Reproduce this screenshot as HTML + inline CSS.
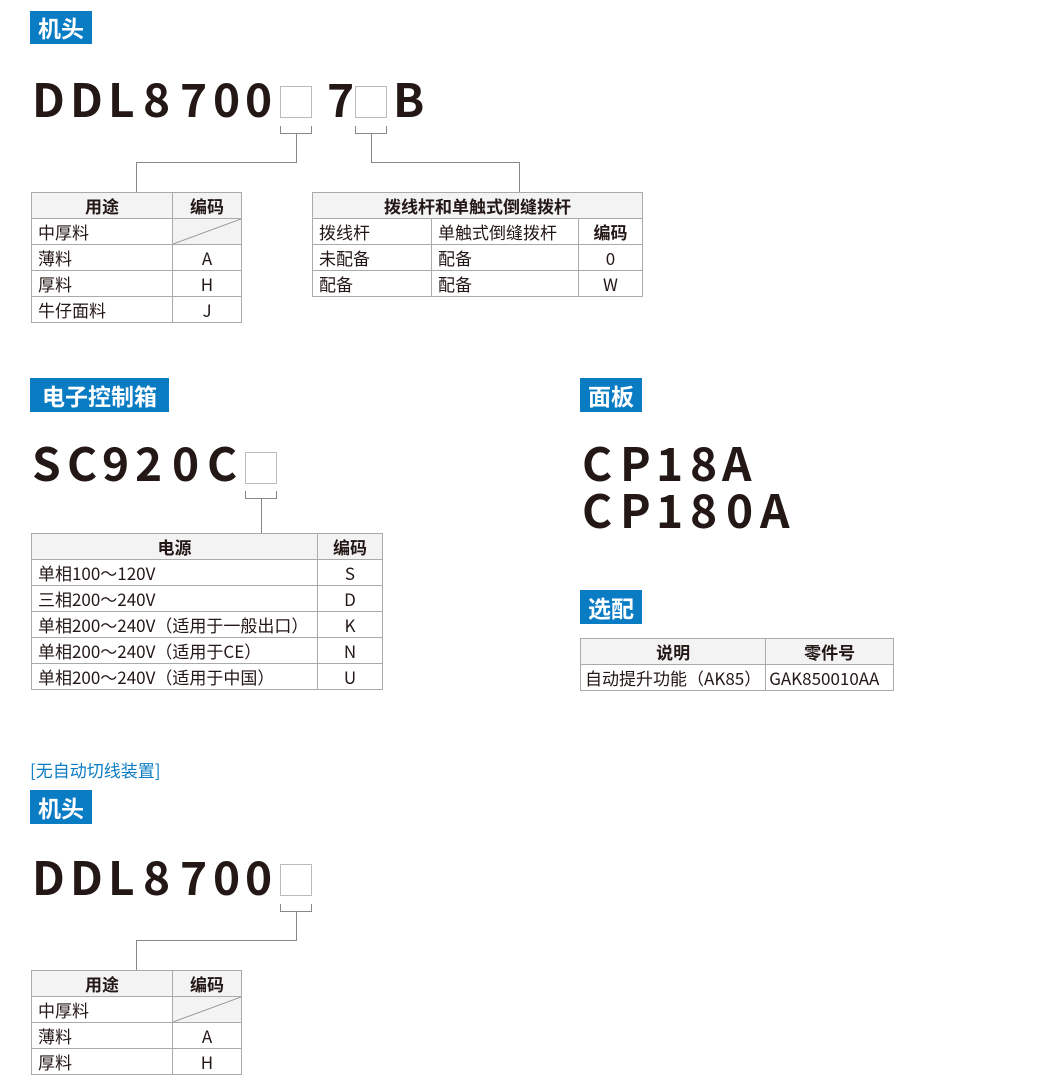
<!DOCTYPE html>
<html><head><meta charset="utf-8"><style>
body{margin:0;width:1060px;height:1088px;background:#fff;position:relative;font-family:"Liberation Sans","Noto Sans CJK SC",sans-serif;color:#231815;overflow:hidden}
.a{position:absolute}
.tag{position:absolute;background:#0a7cc4;color:#fff;font-weight:bold;font-size:23px;line-height:34px;height:34px;padding:0 8px;font-family:"Noto Sans CJK SC",sans-serif}
.big{position:absolute;font-weight:bold;font-size:46px;line-height:46px;color:#231815;font-family:"Noto Sans CJK SC",sans-serif}
.box{position:absolute;width:30px;height:30px;border:1px solid #bbb;background:#fff}
.ln{position:absolute;background:#888}
table{position:absolute;border-collapse:collapse;font-size:17px;font-family:"Noto Sans CJK SC",sans-serif;background:#fff;border:1.5px solid #777}
td{border:1px solid #aaa;padding:0 6px;height:25px;line-height:24px;white-space:nowrap}
th{border:1px solid #aaa;background:#f3f3f3;font-weight:bold;height:25px;line-height:24px;padding:0;font-size:17px}
td.c{text-align:center}
td.d{position:relative;background:#f3f3f3;padding:0}
td.d svg{position:absolute;left:0;top:0;width:100%;height:100%}
</style></head><body>

<div class="tag" style="left:30px;top:11px;height:33px;line-height:33px">机头</div>
<div class="big" style="left:32px;top:75px">D</div><div class="big" style="left:70px;top:75px">D</div><div class="big" style="left:108px;top:75px">L</div><div class="big" style="left:143px;top:75px">8</div><div class="big" style="left:180px;top:75px">7</div><div class="big" style="left:213px;top:75px">0</div><div class="big" style="left:245px;top:75px">0</div>
<div class="box" style="left:280px;top:86px"></div>
<div class="big" style="left:327px;top:75px">7</div>
<div class="box" style="left:355px;top:86px"></div>
<div class="big" style="left:393px;top:75px">B</div>
<div class="ln" style="left:280px;top:126px;width:1px;height:8px"></div><div class="ln" style="left:311px;top:126px;width:1px;height:8px"></div><div class="ln" style="left:280px;top:133px;width:32px;height:1px"></div>
<div class="ln" style="left:296px;top:133px;width:1px;height:30px"></div><div class="ln" style="left:136px;top:162px;width:161px;height:1px"></div><div class="ln" style="left:136px;top:162px;width:1px;height:30px"></div>
<div class="ln" style="left:355px;top:126px;width:1px;height:8px"></div><div class="ln" style="left:386px;top:126px;width:1px;height:8px"></div><div class="ln" style="left:355px;top:133px;width:32px;height:1px"></div>
<div class="ln" style="left:371px;top:133px;width:1px;height:30px"></div><div class="ln" style="left:371px;top:162px;width:149px;height:1px"></div><div class="ln" style="left:519px;top:162px;width:1px;height:30px"></div>

<table style="left:31px;top:192px;width:211px">
<tr><th style="width:140px">用途</th><th>编码</th></tr>
<tr><td>中厚料</td><td class="d"><svg viewBox="0 0 10 10" preserveAspectRatio="none"><line x1="0" y1="10" x2="10" y2="0" stroke="#999" stroke-width="1" vector-effect="non-scaling-stroke"/></svg></td></tr>
<tr><td>薄料</td><td class="c">A</td></tr>
<tr><td>厚料</td><td class="c">H</td></tr>
<tr><td>牛仔面料</td><td class="c">J</td></tr>
</table>

<table style="left:312px;top:192px;width:331px">
<tr><th colspan="3">拨线杆和单触式倒缝拨杆</th></tr>
<tr><td style="width:106px">拨线杆</td><td style="width:134px">单触式倒缝拨杆</td><td class="c" style="font-weight:bold">编码</td></tr>
<tr><td>未配备</td><td>配备</td><td class="c">0</td></tr>
<tr><td>配备</td><td>配备</td><td class="c">W</td></tr>
</table>

<div class="tag" style="left:30px;top:378px;width:123px;text-align:center">电子控制箱</div>
<div class="big" style="left:32px;top:439px">S</div><div class="big" style="left:67px;top:439px">C</div><div class="big" style="left:102px;top:439px">9</div><div class="big" style="left:135px;top:439px">2</div><div class="big" style="left:172px;top:439px">0</div><div class="big" style="left:207px;top:439px">C</div>
<div class="box" style="left:245px;top:452px"></div>
<div class="ln" style="left:245px;top:491px;width:1px;height:8px"></div><div class="ln" style="left:276px;top:491px;width:1px;height:8px"></div><div class="ln" style="left:245px;top:498px;width:32px;height:1px"></div>
<div class="ln" style="left:261px;top:498px;width:1px;height:35px"></div>
<table style="left:31px;top:533px;width:352px">
<tr><th style="width:285px">电源</th><th>编码</th></tr>
<tr><td>单相100～120V</td><td class="c">S</td></tr>
<tr><td>三相200～240V</td><td class="c">D</td></tr>
<tr><td>单相200～240V（适用于一般出口）</td><td class="c">K</td></tr>
<tr><td>单相200～240V（适用于CE）</td><td class="c">N</td></tr>
<tr><td>单相200～240V（适用于中国）</td><td class="c">U</td></tr>
</table>

<div class="tag" style="left:580px;top:378px">面板</div>
<div class="big" style="left:582px;top:439px">C</div><div class="big" style="left:620px;top:439px">P</div><div class="big" style="left:656px;top:439px">1</div><div class="big" style="left:690px;top:439px">8</div><div class="big" style="left:722px;top:439px">A</div>
<div class="big" style="left:582px;top:486px">C</div><div class="big" style="left:620px;top:486px">P</div><div class="big" style="left:656px;top:486px">1</div><div class="big" style="left:690px;top:486px">8</div><div class="big" style="left:726px;top:486px">0</div><div class="big" style="left:760px;top:486px">A</div>

<div class="tag" style="left:580px;top:590px">选配</div>
<table style="left:580px;top:638px;width:314px">
<tr><th style="width:181px">说明</th><th>零件号</th></tr>
<tr><td style="padding:0 4px">自动提升功能（AK85）</td><td style="padding:0 3px">GAK850010AA</td></tr>
</table>

<div class="a" style="left:30px;top:757px;font-size:17px;color:#0a7cc4;font-family:'Noto Sans CJK SC',sans-serif">[无自动切线装置]</div>
<div class="tag" style="left:30px;top:790px">机头</div>
<div class="big" style="left:32px;top:853px">D</div><div class="big" style="left:70px;top:853px">D</div><div class="big" style="left:108px;top:853px">L</div><div class="big" style="left:143px;top:853px">8</div><div class="big" style="left:180px;top:853px">7</div><div class="big" style="left:213px;top:853px">0</div><div class="big" style="left:245px;top:853px">0</div>
<div class="box" style="left:280px;top:864px"></div>
<div class="ln" style="left:280px;top:904px;width:1px;height:8px"></div><div class="ln" style="left:311px;top:904px;width:1px;height:8px"></div><div class="ln" style="left:280px;top:911px;width:32px;height:1px"></div>
<div class="ln" style="left:296px;top:911px;width:1px;height:30px"></div><div class="ln" style="left:136px;top:940px;width:161px;height:1px"></div><div class="ln" style="left:136px;top:940px;width:1px;height:30px"></div>
<table style="left:31px;top:970px;width:211px">
<tr><th style="width:140px">用途</th><th>编码</th></tr>
<tr><td>中厚料</td><td class="d"><svg viewBox="0 0 10 10" preserveAspectRatio="none"><line x1="0" y1="10" x2="10" y2="0" stroke="#999" stroke-width="1" vector-effect="non-scaling-stroke"/></svg></td></tr>
<tr><td>薄料</td><td class="c">A</td></tr>
<tr><td>厚料</td><td class="c">H</td></tr>
</table>
</body></html>
